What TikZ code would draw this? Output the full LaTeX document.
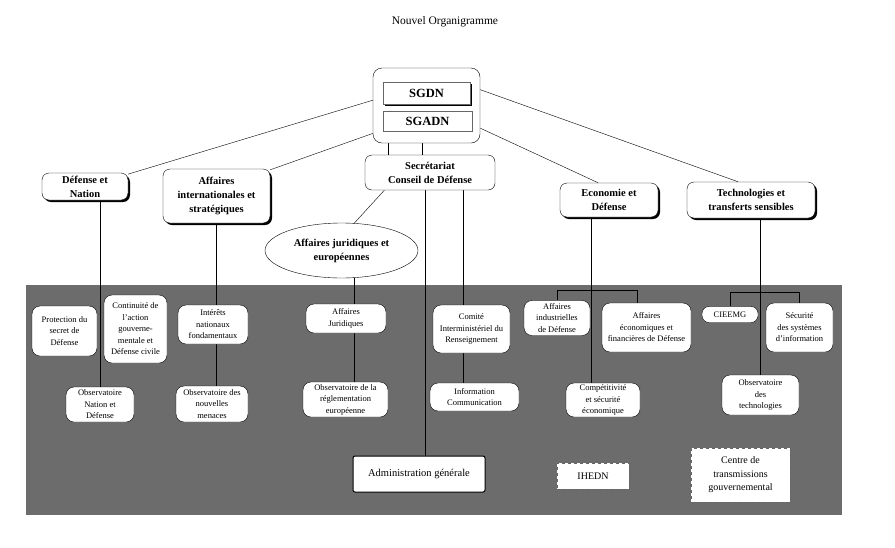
\documentclass[tikz,border=0pt]{standalone}
\usepackage{fontspec}
\setmainfont{Liberation Serif}
\usetikzlibrary{shapes.geometric,shadows,calc}
\pgfdeclarelayer{background}
\pgfsetlayers{background,main}
\definecolor{screen}{RGB}{108,108,108}
\tikzset{every node/.style={inner sep=1pt,align=center}}
\tikzset{shd/.style={drop shadow={shadow xshift=2pt,shadow yshift=-2pt,fill=black,opacity=1}}}
\tikzset{head/.style={rectangle,rounded corners=7pt,draw,fill=white,font=\fontsize{10.5}{14}\selectfont\bfseries}}
\tikzset{sg/.style={rectangle,draw=black!60,fill=white,font=\fontsize{12.5}{14}\selectfont\bfseries}}
\tikzset{unitbox/.style={rectangle,rounded corners=8pt,draw=black,fill=white,font=\fontsize{8.5}{11.5}\selectfont}}
\tikzset{dashbox/.style={rectangle,draw=black!60,dashed,fill=white,font=\fontsize{10}{13.5}\selectfont}}

\begin{document}
\begin{tikzpicture}[x=1pt,y=-1pt,line width=0.55pt]
\useasboundingbox (0,0) rectangle (895,547);
\begin{pgfonlayer}{background}
  \fill[screen] (26,285) rectangle (842,515);
\end{pgfonlayer}

\node[font=\fontsize{11.5}{13}\selectfont] (title) at (445,22) {Nouvel Organigramme};

% direction
\node[rectangle,rounded corners=9pt,draw,fill=white,minimum width=107pt,minimum height=75pt] (org) at (426.5,105.5) {};
\node[sg,shd,minimum width=87pt,minimum height=22pt] (sgdn) at (426.5,93) {SGDN};
\node[sg,minimum width=89pt,minimum height=20pt] (sgadn) at (427.5,121) {SGADN};

% departements
\node[head,minimum width=130pt,minimum height=35pt] (sec) at (430,172.5) {Secrétariat\\Conseil de Défense};
\node[head,shd,minimum width=86pt,minimum height=27pt] (dn) at (85,186.5) {Défense et\\Nation};
\node[head,shd,minimum width=107pt,minimum height=54pt] (ai) at (216.5,196) {Affaires\\internationales et\\stratégiques};
\node[head,shd,minimum width=98pt,minimum height=34pt] (eco) at (609,200) {Economie et\\Défense};
\node[head,shd,minimum width=128pt,minimum height=36pt] (tech) at (751,200) {Technologies et\\transferts sensibles};
\node[ellipse,draw,fill=white,minimum width=153pt,minimum height=55pt,font=\fontsize{10.5}{14}\selectfont\bfseries] (aje) at (341.5,250.5) {Affaires juridiques et\\européennes};

% services
\node[unitbox,minimum width=65pt,minimum height=50pt] (prot) at (64.5,331) {Protection du\\secret de\\Défense};
\node[unitbox,minimum width=63pt,minimum height=68pt] (cont) at (135.5,329) {Continuité de\\l'action\\gouverne-\\mentale et\\Défense civile};
\node[unitbox,minimum width=70pt,minimum height=39pt] (inter) at (213,324.5) {Intérêts\\nationaux\\fondamentaux};
\node[unitbox,minimum width=68pt,minimum height=35pt] (obsnd) at (100,404.5) {Observatoire\\Nation et\\Défense};
\node[unitbox,minimum width=72pt,minimum height=36pt] (obsnm) at (212,404) {Observatoire des\\nouvelles\\menaces};
\node[unitbox,minimum width=80pt,minimum height=29pt] (ajur) at (346,318.5) {Affaires\\Juridiques};
\node[unitbox,minimum width=85pt,minimum height=35pt] (orm) at (345.5,399.5) {Observatoire de la\\réglementation\\européenne};
\node[unitbox,minimum width=77pt,minimum height=48pt] (cir) at (471.5,329) {Comité\\Interministériel du\\Renseignement};
\node[unitbox,minimum width=89pt,minimum height=28pt] (infc) at (474.5,397) {Information\\Communication};
\node[unitbox,minimum width=66pt,minimum height=35pt] (aind) at (557,318) {Affaires\\industrielles\\de Défense};
\node[unitbox,minimum width=89pt,minimum height=49pt] (aecf) at (646.5,327.5) {Affaires\\économiques et\\financières de Défense};
\node[unitbox,minimum width=74pt,minimum height=34pt] (comp) at (603,400) {Compétitivité\\et sécurité\\économique};
\node[unitbox,rounded corners=7pt,minimum width=56pt,minimum height=16pt] (cieemg) at (730,314.5) {CIEEMG};
\node[unitbox,minimum width=67pt,minimum height=49pt] (secsi) at (799.5,327.5) {Sécurité\\des systèmes\\d'information};
\node[unitbox,minimum width=77pt,minimum height=40pt] (obst) at (760.5,395) {Observatoire\\des\\technologies};

% organismes rattaches
\node[rectangle,rounded corners=2pt,draw,line width=1pt,fill=white,minimum width=132pt,minimum height=36pt,font=\fontsize{10.5}{13.5}\selectfont] (admin) at (419,474) {Administration générale};
\node[dashbox,minimum width=72pt,minimum height=26pt] (ihedn) at (593,476) {IHEDN};
\node[dashbox,minimum width=99pt,minimum height=54pt] (ctg) at (740.5,475) {Centre de\\transmissions\\gouvernemental};

\begin{pgfonlayer}{background}
  \draw ($(org.north west)!0.43!(org.south west)$) -- (dn.16);
  \draw ($(org.north west)!0.87!(org.south west)$) -- (ai.26);
  \draw ($(org.north east)!0.29!(org.south east)$) -- ($(tech.north west)!0.4!(tech.north east)$);
  \draw ($(org.north east)!0.8!(org.south east)$) -- ($(eco.north west)!0.39!(eco.north east)$);
  \draw ($(org.south west)!0.14!(org.south east)$) coordinate (o1) -- (o1 |- sec.north);
  \draw ($(org.south west)!0.46!(org.south east)$) coordinate (o2) -- (o2 |- sec.north);
  \draw ($(sec.south west)!0.15!(sec.south east)$) -- (aje.65);
  \draw ($(sec.south west)!0.46!(sec.south east)$) coordinate (s1) -- (s1 |- admin.north);
  \draw ($(sec.south west)!0.755!(sec.south east)$) coordinate (s2) -- (s2 |- infc.north);
  \draw (aje.-65) -- (aje.-65 |- orm.north);
  \draw (obsnd.north |- dn.south) -- (obsnd.north);
  \draw (ai.south) -- (ai.south |- obsnm.north);
  \draw ($(eco.south west)!0.32!(eco.south east)$) coordinate (e1) -- (e1 |- comp.north);
  \draw (obst.north |- tech.south) -- (obst.north);
  \draw (aind.north) -- ++(0,-10) -| ($(aecf.north west)!0.4!(aecf.north east)$);
  \draw (cieemg.north) -- ++(0,-14) -| (secsi.north);
\end{pgfonlayer}
\end{tikzpicture}
\end{document}
